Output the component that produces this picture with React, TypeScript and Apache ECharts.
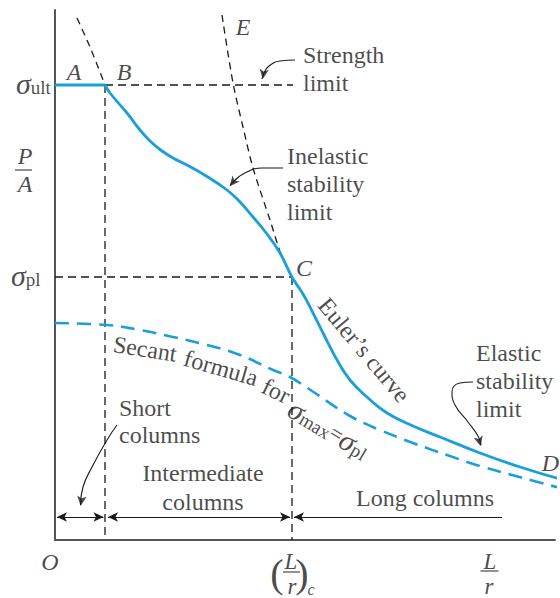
import React, { useEffect, useRef } from "react";
import * as echarts from "echarts";

// ---- Data (x = L/r units, y = P/A units) ----
const SIGMA_ULT = 91;
const SIGMA_PL = 52.6;
const LR_B = 10;
const LR_C = 47.4;

const plateauAB: [number, number][] = [
  [0, SIGMA_ULT],
  [LR_B, SIGMA_ULT],
];

const stabilityCurveBCD: [number, number][] = [
  [10, 91], [11, 89.4], [14.4, 85.4], [17, 82], [19, 79.8], [21, 78.1], [23.6, 76.4],
  [26.4, 75], [30.4, 72.7], [34.4, 70], [37, 67.6], [39.6, 64.6], [42.4, 61.2],
  [45, 57.4], [47.4, 52.6], [49.6, 49.2], [51.6, 45.4], [53.6, 41.4], [56.4, 36],
  [59, 32], [62.4, 28.6], [66.4, 25.4], [71.6, 22.8], [77, 20.6], [85, 17.4],
  [93, 14.6], [101, 12.2],
];

const eulerExtensionEC: [number, number][] = [
  [33.4, 105], [35.6, 91.4], [37.6, 82.6], [39.6, 74.4], [43, 64], [45.4, 56.6], [47.4, 52.6],
];

const strengthCurveExtension: [number, number][] = [
  [4.4, 104.4], [7, 98.6], [10, 91],
];

const secantCurve: [number, number][] = [
  [0, 43.4], [10.4, 43], [17, 42], [23.6, 40.6], [30.4, 39], [37, 37], [43.6, 34],
  [47, 32.6], [52, 29.4], [59, 24.8], [65, 22], [71.6, 19.4], [78.4, 17],
  [85, 14.8], [93.6, 12.4], [101, 10.4],
];

// annotation leader curves
const strengthLeader: [number, number][] = [[48, 96], [45, 95.8], [42.8, 94.8], [41.7, 93.2], [41.4, 92.2]];
const inelasticLeader: [number, number][] = [[45.6, 74.4], [41.4, 74.4], [38, 73.4], [35.8, 71.8], [35, 70.9]];
const shortLeader: [number, number][] = [[12.4, 23], [10.4, 20], [7.4, 14.6], [5.6, 10.6], [5.1, 7]];
const elasticLeader: [number, number][] = [[83.6, 31.6], [81, 31.4], [79.4, 29.6], [80, 27], [82.6, 23.6], [84.6, 20.8], [85.2, 19]];

const FONT = '"Liberation Serif", "Times New Roman", serif';
const BLUE = "#1a9fdb";
const INK = "#1a1a1a";

function arrowHead(tip: [number, number], from: [number, number]) {
  const dx = tip[0] - from[0];
  const dy = tip[1] - from[1];
  const len = Math.hypot(dx, dy) || 1;
  const ux = dx / len;
  const uy = dy / len;
  const rot = (Math.atan2(-ux, uy) * 180) / Math.PI;
  return { value: [tip[0] - ux * 1, tip[1] - uy * 1], symbolRotate: rot };
}

function lbl(text: string, x: number, y: number, extra: any = {}) {
  return { value: [x, y], label: { formatter: text, ...extra } };
}

const it = { fontStyle: "italic" };
const itLow = { fontStyle: "italic", lineHeight: 18, fontSize: 23 };

export default function App() {
  const ref = useRef<HTMLDivElement>(null);
  useEffect(() => {
    const chart = echarts.init(ref.current!, undefined, { renderer: "svg" });
    const line = (data: any, style: any, extra: any = {}) => ({
      type: "line",
      data,
      symbol: "none",
      silent: true,
      clip: false,
      lineStyle: style,
      ...extra,
    });
    const dashBlack = { color: INK, width: 1.3, type: [8, 5] };
    const leader = { color: INK, width: 1.1 };

    const rich = {
      s: { fontStyle: "italic", fontSize: 30, fontFamily: FONT, color: INK, lineHeight: 28 },
      b: { fontSize: 19, fontFamily: FONT, color: INK, lineHeight: 19, verticalAlign: "bottom" },
      n: { fontSize: 22, fontFamily: FONT, color: INK, lineHeight: 26 },
    };

    const option: any = {
      animation: false,
      backgroundColor: "#ffffff",
      grid: { left: 55, right: 5, top: 10, bottom: 58, containLabel: false },
      xAxis: {
        type: "value", min: 0, max: 100,
        axisLine: { show: true, lineStyle: { color: "#555", width: 2 } },
        axisTick: { show: false }, axisLabel: { show: false }, splitLine: { show: false },
      },
      yAxis: {
        type: "value", min: 0, max: 106,
        axisLine: { show: true, lineStyle: { color: "#555", width: 2 } },
        axisTick: { show: false }, axisLabel: { show: false }, splitLine: { show: false },
      },
      series: [
        // reference dashed lines
        line([[LR_B, SIGMA_ULT], [47.6, SIGMA_ULT]], dashBlack),
        line([[LR_B, SIGMA_ULT], [LR_B, 0]], dashBlack),
        line([[0, SIGMA_PL], [LR_C, SIGMA_PL]], dashBlack),
        line([[LR_C, SIGMA_PL], [LR_C, 0]], dashBlack),
        line(eulerExtensionEC, { color: INK, width: 1.3, type: [7, 5] }, { smooth: 0.3 }),
        line(strengthCurveExtension, { color: INK, width: 1.3, type: [7, 5] }, { smooth: 0.3 }),
        // secant dashed blue
        line(secantCurve, { color: BLUE, width: 2.6, type: [14, 8] }, { smooth: 0.4 }),
        // plateau A-B with dimension arrows
        line(plateauAB, { color: BLUE, width: 2.8 }, {
          markLine: {
            silent: true,
            animation: false,
            symbol: ["arrow", "arrow"],
            symbolSize: [7, 10],
            label: { show: false },
            emphasis: { disabled: true },
            lineStyle: { color: INK, width: 1.1, type: "solid" },
            data: [
              [{ coord: [0.4, 4.6] }, { coord: [9.7, 4.6] }],
              [{ coord: [10.6, 4.6] }, { coord: [47, 4.6] }],
              [{ coord: [47.8, 4.6], symbol: "arrow" }, { coord: [89.4, 4.6], symbol: "none" }],
            ],
          },
        }),
        // main stability curve B-C-D
        line(stabilityCurveBCD, { color: BLUE, width: 2.8 }, { smooth: 0.45 }),
        // leaders
        line(strengthLeader, leader, { smooth: 0.5 }),
        line(inelasticLeader, leader, { smooth: 0.5 }),
        line(shortLeader, leader, { smooth: 0.5 }),
        line(elasticLeader, leader, { smooth: 0.5 }),
        // fraction bars (thin rects)
        {
          type: "scatter",
          symbol: "rect",
          silent: true,
          clip: false,
          itemStyle: { color: INK },
          data: [
            { value: [-6.3, 74], symbolSize: [17, 1.2] },
            { value: [47.3, -6.4], symbolSize: [17, 1.2] },
            { value: [86.9, -6.2], symbolSize: [18, 1.2] },
          ],
        },
        // arrowheads
        {
          type: "scatter",
          symbol: "arrow",
          symbolSize: [7, 10],
          silent: true,
          clip: false,
          itemStyle: { color: INK },
          data: [
            arrowHead([41.4, 91.2], [41.7, 93.2]),
            arrowHead([34.3, 70], [35.8, 71.8]),
            arrowHead([5, 5.8], [5.6, 10.6]),
            arrowHead([85.4, 17.8], [84.6, 20.8]),
          ],
        },
        // text labels
        {
          type: "scatter",
          symbolSize: 1,
          silent: true,
          clip: false,
          z: 20,
          itemStyle: { color: "rgba(0,0,0,0)" },
          label: {
            show: true,
            position: "inside",
            fontFamily: FONT,
            fontSize: 24,
            color: INK,
            align: "center",
            verticalAlign: "middle",
            lineHeight: 27,
            rich,
          },
          data: [
            lbl("A", 3.8, 93.6, it),
            lbl("B", 13.8, 93.6, it),
            lbl("E", 37.6, 102.6, it),
            lbl("C", 49.8, 54.4, it),
            lbl("D", 99.1, 15.4, it),
            lbl("O", -1, -4.4, it),
            lbl("P", -6, 76.9, it),
            lbl("A", -6, 71.3, it),
            lbl("{s|σ}{b|ult}", -7.8, 91.4, { align: "left" }),
            lbl("{s|σ}{b|pl}", -8.8, 53, { align: "left" }),
            lbl("L", 47.2, -4.2, itLow),
            lbl("r", 47.4, -9.2, itLow),
            lbl("(", 44.4, -6.6, { fontSize: 40, lineHeight: 36 }),
            lbl(")", 49.4, -6.6, { fontSize: 40, lineHeight: 36 }),
            lbl("c", 51.2, -9.8, { fontSize: 16, fontStyle: "italic", lineHeight: 12 }),
            lbl("L", 87, -4.2, itLow),
            lbl("r", 86.8, -9.2, itLow),
            lbl("Strength\nlimit", 49.6, 94.2, { align: "left", lineHeight: 28 }),
            lbl("Inelastic\nstability\nlimit", 46.4, 71.2, { align: "left", lineHeight: 28 }),
            lbl("Short\ncolumns", 12.8, 23.7, { align: "left" }),
            lbl("Intermediate\ncolumns", 29.6, 10.5, { lineHeight: 29 }),
            lbl("Long columns", 74, 8.4),
            lbl("Elastic\nstability\nlimit", 84.2, 31.8, { align: "left", lineHeight: 28 }),
            lbl("Euler’s curve", 61.8, 38, { rotate: -50 }),
            lbl("Secant", 18, 38.2, { rotate: -9 }),
            lbl("formula", 33.2, 34.4, { rotate: -16 }),
            lbl("for", 44.2, 29.8, { rotate: -26 }),
            lbl("{s|σ}{b|max}{n|=}{s|σ}{b|pl}", 54.8, 22.2, { rotate: -31 }),
          ],
        },
      ],
    };
    chart.setOption(option);
    return () => chart.dispose();
  }, []);
  return (
    <div
      ref={ref}
      style={{ position: "fixed", left: 0, top: 0, width: 560, height: 598, background: "#fff" }}
    />
  );
}
